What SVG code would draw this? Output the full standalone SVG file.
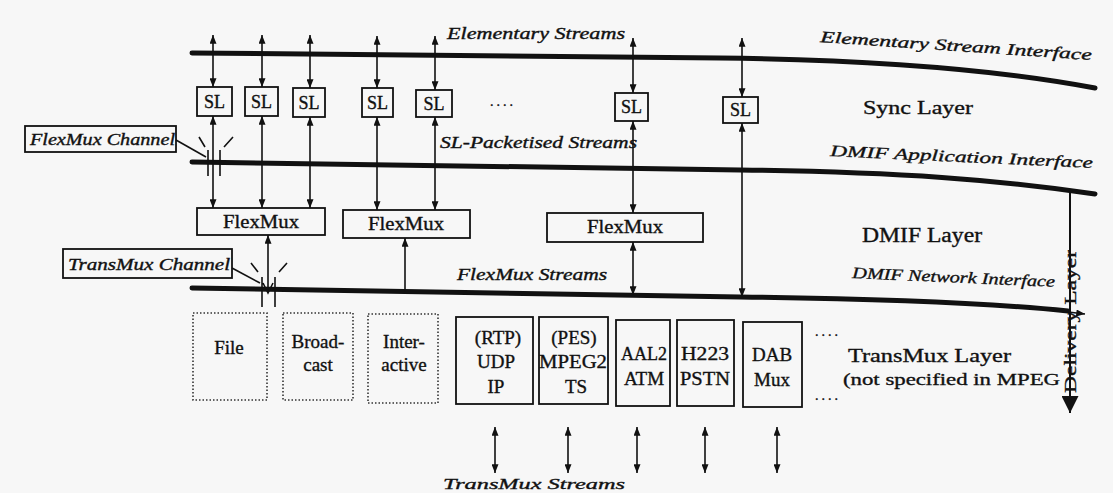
<svg xmlns="http://www.w3.org/2000/svg" width="1113" height="493" viewBox="0 0 1113 493">
<style>
.thick{fill:none;stroke:#111;stroke-width:5;stroke-linecap:round}
.box{fill:none;stroke:#111;stroke-width:1.8}
.dbox{fill:none;stroke:#333;stroke-width:1.6;stroke-dasharray:1.5 2}
.arr{fill:none;stroke:#111;stroke-width:1.6;marker-start:url(#ah);marker-end:url(#ah)}
.arre{fill:none;stroke:#111;stroke-width:1.6;marker-end:url(#ah)}
.ln{fill:none;stroke:#111;stroke-width:1.6}
.t{font-family:"Liberation Serif","DejaVu Serif",serif;fill:#111;stroke:#111;stroke-width:0.35}
.i{font-family:"Liberation Serif","DejaVu Serif",serif;font-style:italic;fill:#111;stroke:#111;stroke-width:0.35}
.c{text-anchor:middle}
</style>
<defs>
<marker id="ah" viewBox="0 0 10 8" refX="10" refY="4" markerWidth="9" markerHeight="7" markerUnits="userSpaceOnUse" orient="auto-start-reverse"><path d="M0,0 L10,4 L0,8 z" fill="#111"/></marker>
<marker id="big" viewBox="0 0 10 10" refX="10" refY="5" markerWidth="18" markerHeight="17" markerUnits="userSpaceOnUse" orient="auto"><path d="M0,0 L10,5 L0,10 z" fill="#111"/></marker>
</defs>
<rect width="1113" height="493" fill="#f7f7f7"/>
<g id="interfaces">
<path class="thick" d="M192,53 L720,58 C880,60 1000,70 1095,88"/>
<path class="thick" d="M192,162 L740,170 C900,172 1000,180 1095,194"/>
<path class="thick" d="M192,288 L740,297 C900,299 1000,304 1068,311"/>
</g>
<g id="connectors">
<path class="arr" d="M213,35 L213,87"/>
<path class="arr" d="M262,35 L262,87"/>
<path class="arr" d="M310,35 L310,88"/>
<path class="arr" d="M377,36 L377,88"/>
<path class="arr" d="M435,36 L435,90"/>
<path class="arr" d="M633,38 L633,93"/>
<path class="arr" d="M742,38 L742,97"/>
<path class="arr" d="M213,116 L213,208"/>
<path class="arr" d="M262,116 L262,208"/>
<path class="arr" d="M310,117 L310,208"/>
<path class="arr" d="M377,117 L377,210"/>
<path class="arr" d="M435,117 L435,210"/>
<path class="arr" d="M633,121 L633,213"/>
<path class="arr" d="M742,123 L742,297"/>
<path class="arre" d="M268,290 L268,235"/>
<path class="arre" d="M405,292 L405,238"/>
<path class="arr" d="M633,242 L633,295"/>
<path class="arr" d="M495,427 L495,473"/>
<path class="arr" d="M568,427 L568,473"/>
<path class="arr" d="M637,427 L637,473"/>
<path class="arr" d="M705,427 L705,473"/>
<path class="arr" d="M777,427 L777,473"/>
<path class="arre" d="M1068,312 L1085,314"/>
<path d="M1070,193 L1070,413" fill="none" stroke="#111" stroke-width="2" marker-end="url(#big)"/>
<path class="ln" d="M176,140 L206,157"/>
<path class="ln" d="M199,137 L205,147 M224,147 L233,137 M208,150 L208,176 M220,150 L220,176"/>
<path class="ln" d="M232,268 L260,283"/>
<path class="ln" d="M251,263 L258,272 M279,272 L287,263 M262,277 L262,307 M275,277 L275,307 M263,283 L268,293 L273,283"/>
</g>
<g id="sl1"><rect class="box" x="197" y="87" width="35" height="29"/><text class="t c" x="214.5" y="108" font-size="18">SL</text></g>
<g id="sl2"><rect class="box" x="245" y="87" width="33" height="29"/><text class="t c" x="261.5" y="108" font-size="18">SL</text></g>
<g id="sl3"><rect class="box" x="293" y="88" width="32" height="29"/><text class="t c" x="309" y="109" font-size="18">SL</text></g>
<g id="sl4"><rect class="box" x="362" y="88" width="31" height="29"/><text class="t c" x="377.5" y="109" font-size="18">SL</text></g>
<g id="sl5"><rect class="box" x="416" y="90" width="36" height="27"/><text class="t c" x="434" y="110" font-size="18">SL</text></g>
<g id="sl6"><rect class="box" x="615" y="93" width="33" height="28"/><text class="t c" x="631.5" y="113" font-size="18">SL</text></g>
<g id="sl7"><rect class="box" x="723" y="97" width="35" height="26"/><text class="t c" x="740.5" y="116" font-size="18">SL</text></g>
<text class="t" x="490" y="106" font-size="14" letter-spacing="3">....</text>
<g id="flexmux1"><rect class="box" x="197" y="208" width="128" height="27"/><text class="t c" x="261" y="228" font-size="18" textLength="76" lengthAdjust="spacingAndGlyphs">FlexMux</text></g>
<g id="flexmux2"><rect class="box" x="343" y="210" width="127" height="28"/><text class="t c" x="406" y="230" font-size="18" textLength="76" lengthAdjust="spacingAndGlyphs">FlexMux</text></g>
<g id="flexmux3"><rect class="box" x="547" y="213" width="156" height="29"/><text class="t c" x="625" y="233" font-size="18" textLength="76" lengthAdjust="spacingAndGlyphs">FlexMux</text></g>
<g id="flexmux-channel"><rect class="box" x="25" y="126" width="151" height="26"/><text class="i" x="30" y="145" font-size="16" textLength="145" lengthAdjust="spacingAndGlyphs">FlexMux Channel</text></g>
<g id="transmux-channel"><rect class="box" x="63" y="249" width="169" height="29"/><text class="i" x="68" y="270" font-size="16" textLength="162" lengthAdjust="spacingAndGlyphs">TransMux Channel</text></g>
<g id="file"><rect class="dbox" x="193" y="313" width="74" height="87"/><text class="t c" x="229" y="354" font-size="19">File</text></g>
<g id="broadcast"><rect class="dbox" x="283" y="313" width="70" height="87"/><text class="t c" x="318" y="348" font-size="19">Broad-</text><text class="t c" x="318" y="371" font-size="19">cast</text></g>
<g id="interactive"><rect class="dbox" x="368" y="314" width="70" height="89"/><text class="t c" x="404" y="348" font-size="19">Inter-</text><text class="t c" x="404" y="371" font-size="19">active</text></g>
<g id="rtp"><rect class="box" x="456" y="317" width="77" height="87"/><text class="t c" x="498" y="344" font-size="19">(RTP)</text><text class="t c" x="496" y="368" font-size="19">UDP</text><text class="t c" x="496" y="393" font-size="19">IP</text></g>
<g id="pes"><rect class="box" x="539" y="317" width="69" height="87"/><text class="t c" x="574" y="344" font-size="19">(PES)</text><text class="t c" x="573" y="368" font-size="19" textLength="68" lengthAdjust="spacingAndGlyphs">MPEG2</text><text class="t c" x="576" y="393" font-size="19">TS</text></g>
<g id="aal2"><rect class="box" x="616" y="320" width="54" height="86"/><text class="t c" x="644" y="360" font-size="19" textLength="46" lengthAdjust="spacingAndGlyphs">AAL2</text><text class="t c" x="644" y="385" font-size="19">ATM</text></g>
<g id="h223"><rect class="box" x="677" y="320" width="57" height="86"/><text class="t c" x="705" y="360" font-size="19" textLength="48" lengthAdjust="spacingAndGlyphs">H223</text><text class="t c" x="705" y="385" font-size="19" textLength="50" lengthAdjust="spacingAndGlyphs">PSTN</text></g>
<g id="dab"><rect class="box" x="743" y="322" width="59" height="85"/><text class="t c" x="772" y="361" font-size="19">DAB</text><text class="t c" x="772" y="386" font-size="19">Mux</text></g>
<text class="t" x="815" y="336" font-size="14" letter-spacing="3">....</text>
<text class="t" x="815" y="400" font-size="14" letter-spacing="3">....</text>
<g id="labels">
<text class="i" x="447" y="39" font-size="16" textLength="178" lengthAdjust="spacingAndGlyphs">Elementary Streams</text>
<text class="i" transform="translate(820,42) rotate(3.8)" font-size="16" textLength="272" lengthAdjust="spacingAndGlyphs">Elementary Stream Interface</text>
<text class="t" x="863" y="114" font-size="19" textLength="110" lengthAdjust="spacingAndGlyphs">Sync Layer</text>
<text class="i" x="440" y="148" font-size="16" textLength="197" lengthAdjust="spacingAndGlyphs">SL-Packetised Streams</text>
<text class="i" transform="translate(830,156) rotate(2.6)" font-size="16" textLength="263" lengthAdjust="spacingAndGlyphs">DMIF Application Interface</text>
<text class="t" x="862" y="242" font-size="20" textLength="120" lengthAdjust="spacingAndGlyphs">DMIF Layer</text>
<text class="i" x="457" y="280" font-size="16" textLength="150" lengthAdjust="spacingAndGlyphs">FlexMux Streams</text>
<text class="i" transform="translate(852,278) rotate(2.5)" font-size="16" textLength="203" lengthAdjust="spacingAndGlyphs">DMIF Network Interface</text>
<text class="t" x="848" y="362" font-size="19" textLength="163" lengthAdjust="spacingAndGlyphs">TransMux Layer</text>
<text class="t" x="843" y="385" font-size="17" textLength="217" lengthAdjust="spacingAndGlyphs">(not specified in MPEG</text>
<text class="t" transform="translate(1076,393) rotate(-90)" font-size="17" textLength="143" lengthAdjust="spacingAndGlyphs">Delivery Layer</text>
<text class="i" x="443" y="489" font-size="15" textLength="182" lengthAdjust="spacingAndGlyphs">TransMux Streams</text>
</g>
</svg>
